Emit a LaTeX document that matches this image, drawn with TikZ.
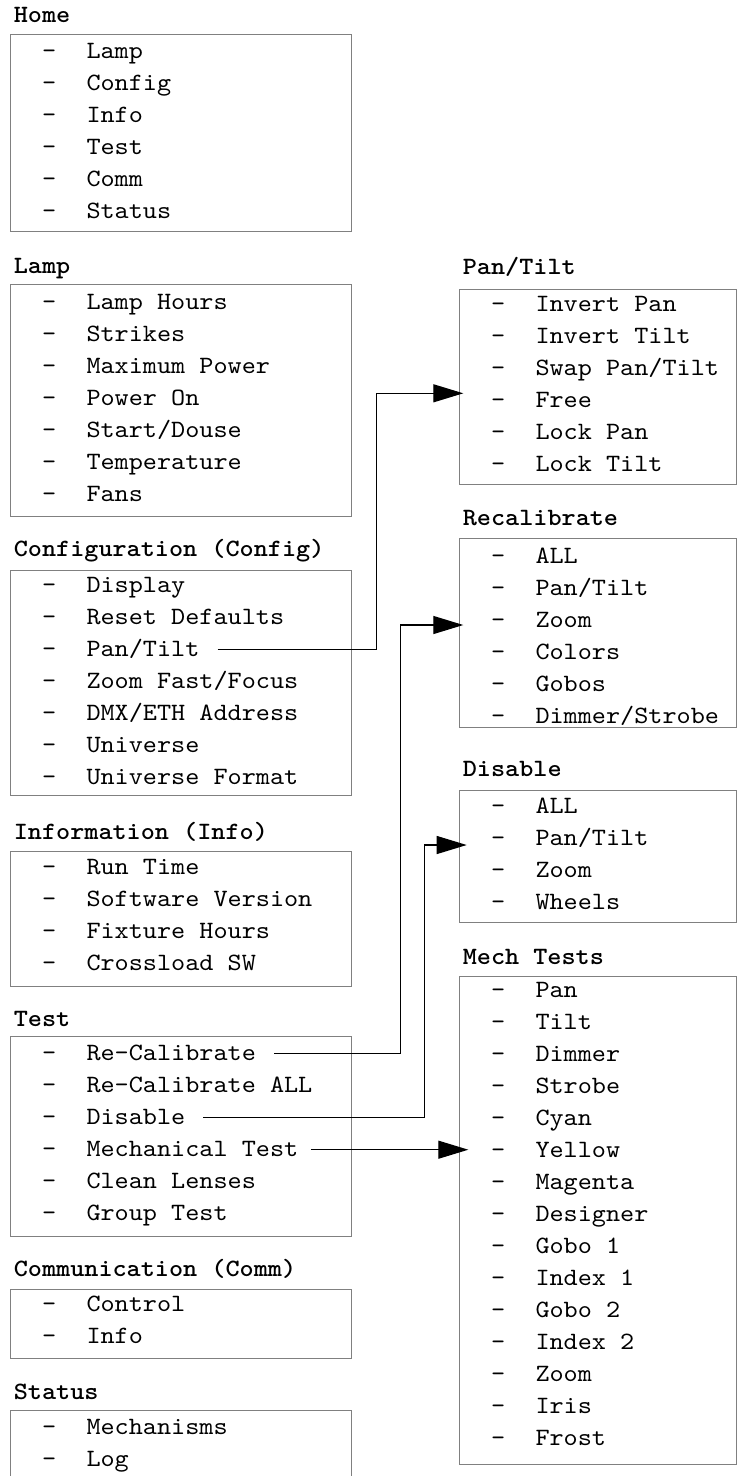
\documentclass[tikz,border=0pt]{standalone}
\usepackage{fontspec}
\setmonofont{lmmono10-regular.otf}[FakeStretch=1.08, BoldFont=lmmonolt10-bold.otf]
\usetikzlibrary{arrows.meta}
\newcommand\menufont{\ttfamily\fontsize{24.9}{30}\selectfont}
\tikzset{
  frame/.style={draw=black!50, line width=1pt, inner sep=0pt, outer sep=0pt, anchor=north west},
  itemtext/.style={font=\menufont, inner sep=0pt, anchor=base west},
  dashmark/.style={font=\menufont, inner sep=0pt, anchor=base},
  heading/.style={font=\menufont\bfseries, inner sep=0pt, anchor=base west},
  conn/.style={draw=black, line width=1.2pt, -{Triangle[length=30pt,width=18pt]}},
}
% #1 name, #2 left, #3 right, #4 top, #5 bottom, #6 title baseline, #7 first baseline, #8 title, #9 items
\newcommand\menubox[9]{%
  \node[frame, minimum width={#3pt-#2pt}, minimum height={#5pt-#4pt}] (#1) at (#2,#4) {};
  \node[heading] (#1-title) at ({#2+3.3},#6) {#8};
  \foreach \t [count=\i] in {#9} {
    \node[dashmark] (#1-d\i) at ({#2+39},{#7+32*(\i-1)}) {-};
    \node[itemtext] (#1-\i) at ({#2+76},{#7+32*(\i-1)}) {\t};
  }
}
\begin{document}
\begin{tikzpicture}[x=1pt,y=-1pt]
\useasboundingbox (0,0) rectangle (737,1476);
% left column
\menubox{home}{10.3}{351.7}{34.3}{231}{22.7}{58.3}{Home}{Lamp,Config,Info,Test,Comm,Status}
\menubox{lamp}{10.3}{351.7}{284.3}{516}{273.3}{309.3}{Lamp}{Lamp Hours,Strikes,Maximum Power,Power On,Start/Douse,Temperature,Fans}
\menubox{cfg}{10.3}{351.7}{570}{795.7}{556.7}{592.3}{Configuration (Config)}{Display,Reset Defaults,Pan/Tilt,Zoom Fast/Focus,DMX/ETH Address,Universe,Universe Format}
\menubox{info}{10.3}{351.7}{851.7}{986}{839.3}{874.3}{Information (Info)}{Run Time,Software Version,Fixture Hours,Crossload SW}
\menubox{test}{10.3}{351.7}{1036.7}{1236.7}{1026}{1060.7}{Test}{Re-Calibrate,Re-Calibrate ALL,Disable,Mechanical Test,Clean Lenses,Group Test}
\menubox{comm}{10.3}{351.7}{1289}{1358.3}{1276}{1311}{Communication (Comm)}{Control,Info}
\menubox{stat}{10.3}{351.7}{1410}{1500}{1399}{1434}{Status}{Mechanisms,Log}
% right column
\menubox{pt}{459.3}{736.5}{289.3}{484.3}{274.3}{311}{Pan/Tilt}{Invert Pan,Invert Tilt,Swap Pan/Tilt,Free,Lock Pan,Lock Tilt}
\menubox{rc}{459.3}{736.5}{538.3}{727.3}{525.7}{563}{Recalibrate}{ALL,Pan/Tilt,Zoom,Colors,Gobos,Dimmer/Strobe}
\menubox{dis}{459.3}{736.5}{790.7}{922.7}{776.7}{813}{Disable}{ALL,Pan/Tilt,Zoom,Wheels}
\menubox{mech}{459.3}{736.5}{976.7}{1464.3}{964}{997.5}{Mech Tests}{Pan,Tilt,Dimmer,Strobe,Cyan,Yellow,Magenta,Designer,Gobo 1,Index 1,Gobo 2,Index 2,Zoom,Iris,Frost}
% connectors
\coordinate (c1bend) at (376.7,393.3);
\coordinate (c1tip) at (463.3,393.3);
\coordinate (c2bend) at (400.7,625);
\coordinate (c2tip) at (463.3,625);
\coordinate (c3bend) at (424.7,845);
\coordinate (c3tip) at (466.7,845);
\draw[conn] ([xshift=18pt,yshift=7pt]cfg-3.base east) -| (c1bend) -- (c1tip);
\draw[conn] ([xshift=18pt,yshift=7pt]test-1.base east) -| (c2bend) -- (c2tip);
\draw[conn] ([xshift=17.6pt,yshift=7pt]test-3.base east) -| (c3bend) -- (c3tip);
\coordinate (c4start) at ([xshift=12.5pt,yshift=7pt]test-4.base east);
\coordinate (c4tip) at (c4start -| 468.3,0);
\draw[conn] (c4start) -- (c4tip);
\end{tikzpicture}
\end{document}
